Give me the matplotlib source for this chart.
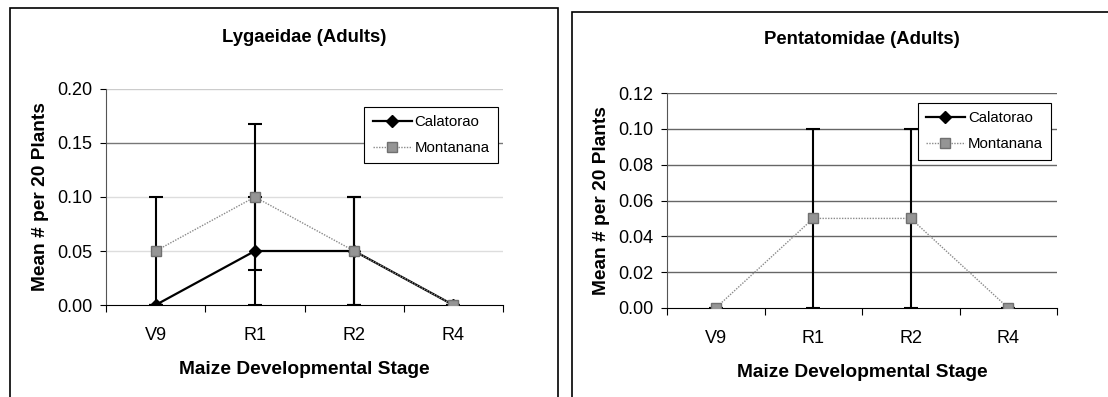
import numpy as np
import matplotlib.pyplot as plt
from matplotlib.patches import Rectangle
from matplotlib.lines import Line2D

plt.rcParams['font.family'] = ['Liberation Sans', 'DejaVu Sans']

stages = ['V9', 'R1', 'R2', 'R4']

# Lygaeidae (Adults)
lyg_cal = [0.0, 0.05, 0.05, 0.0]
lyg_cal_err = [0.0, 0.05, 0.05, 0.0]
lyg_mon = [0.05, 0.10, 0.05, 0.0]
lyg_mon_err = [0.05, 0.068, 0.05, 0.0]

# Pentatomidae (Adults) - Calatorao has no visible marks in the figure
pen_cal = [np.nan, np.nan, np.nan, np.nan]
pen_cal_err = [0.0, 0.0, 0.0, 0.0]
pen_mon = [0.0, 0.05, 0.05, 0.0]
pen_mon_err = [0.0, 0.05, 0.05, 0.0]

fig = plt.figure(figsize=(11.08, 3.97), dpi=100)

# panel frames
fig.patches.append(Rectangle((10/1108, -0.05), 548/1108, 1 - 8/397 + 0.05,
                             transform=fig.transFigure, fill=False, ec='black', lw=1.2))
fig.patches.append(Rectangle((572/1108, -0.05), 0.6, 1 - 12/397 + 0.05,
                             transform=fig.transFigure, fill=False, ec='black', lw=1.2))

cal_style = dict(color='black', lw=1.6, marker='D', ms=6, mfc='black', mec='black')
mon_style = dict(color='#8a8a8a', lw=1, ls=(0, (1, 1)), marker='s', ms=7,
                 mfc='#959595', mec='#707070')


def panel(ax, title, cal, cal_err, mon, mon_err, ymax, ystep, grid_colors,
          leg_anchor, title_pad):
    x = np.arange(len(stages))
    yt = np.arange(0, ymax + ystep / 2, ystep)
    for v, c in zip(yt[1:], grid_colors):
        ax.axhline(v, color=c, lw=1, zorder=0)
    ax.errorbar(x, cal, yerr=cal_err, ecolor='black', elinewidth=1.5,
                capsize=5, capthick=1.5, zorder=3, **cal_style)
    ax.errorbar(x, mon, yerr=mon_err, ecolor='black', elinewidth=1.5,
                capsize=5, capthick=1.5, zorder=4, **mon_style)
    ax.set_xlim(-0.5, len(stages) - 0.5)
    ax.set_ylim(0, ymax)
    ax.set_yticks(yt)
    ax.set_yticklabels(['%.2f' % v for v in yt], fontsize=13)
    ax.set_xticks(np.arange(-0.5, len(stages), 1.0))
    ax.set_xticklabels([])
    ax.set_xticks(x, minor=True)
    ax.set_xticklabels(stages, minor=True, fontsize=13)
    ax.tick_params(axis='x', which='major', length=5, direction='out')
    ax.tick_params(axis='x', which='minor', length=0, pad=16)
    ax.tick_params(axis='y', length=4, direction='out', pad=6)
    for s in ['top', 'right']:
        ax.spines[s].set_visible(False)
    ax.spines['left'].set_color('#555555')
    ax.spines['bottom'].set_color('black')
    ax.set_title(title, fontsize=13.3, fontweight='bold', pad=title_pad)
    ax.set_xlabel('Maize Developmental Stage', fontsize=13.8, fontweight='bold', labelpad=12)
    ax.set_ylabel('Mean # per 20 Plants', fontsize=13.8, fontweight='bold', labelpad=6)
    handles = [Line2D([], [], **cal_style), Line2D([], [], **mon_style)]
    leg = ax.legend(handles, ['Calatorao', 'Montanana'], loc='upper right',
                    bbox_to_anchor=leg_anchor, fontsize=10.8, fancybox=False,
                    edgecolor='black', framealpha=1, handlelength=2.6,
                    borderpad=0.55, labelspacing=0.8, handletextpad=0.2,
                    borderaxespad=0)
    leg.get_frame().set_linewidth(0.8)


ax1 = fig.add_axes([106/1108, 1 - 305/397, 397/1108, 216/397])
panel(ax1, 'Lygaeidae (Adults)', lyg_cal, lyg_cal_err, lyg_mon, lyg_mon_err,
      0.20, 0.05, ['#dddddd', '#dddddd', '#777777', '#cccccc'], (0.987, 0.917), 34)

ax2 = fig.add_axes([667/1108, 1 - 308/397, 390/1108, 215/397])
panel(ax2, 'Pentatomidae (Adults)', pen_cal, pen_cal_err, pen_mon, pen_mon_err,
      0.12, 0.02, ['#666666'] * 6, (0.985, 0.953), 35)

fig.savefig('out.png', dpi=100)
